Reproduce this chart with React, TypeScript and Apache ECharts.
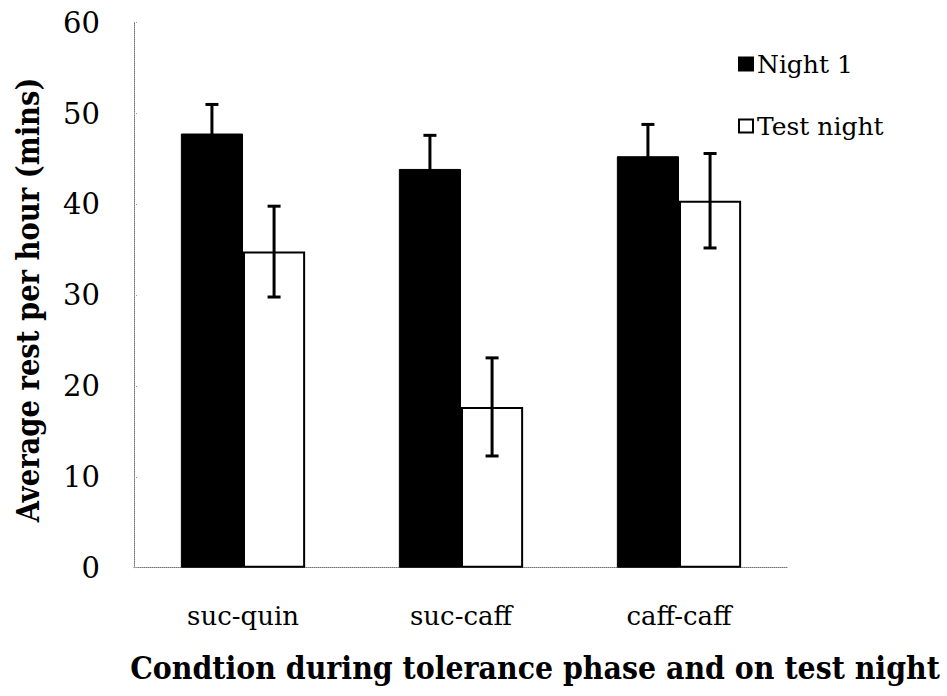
import React, { useEffect, useRef } from "react";
import * as echarts from "echarts";

// Rest per hour (minutes) for each condition
const categories = ["suc-quin", "suc-caff", "caff-caff"];
const night1 = [47.8, 43.9, 45.3];
const night1Err = [3.2, 3.7, 3.5];
const testNight = [34.8, 17.7, 40.4];
const testNightErr = [5.0, 5.4, 5.2];
const yTicks = [0, 10, 20, 30, 40, 50, 60];

const yTitle = "Average rest per hour (mins)";
const xTitle = "Condtion during tolerance phase and on test night";

const FONT = "DejaVu Serif";
const BAR_FRACTION = 0.285;

// Horizontal squeeze factor so a title spans the given length
function fitScale(text: string, font: string, target: number) {
  const ctx = document.createElement("canvas").getContext("2d");
  if (!ctx) return 1;
  ctx.font = font;
  const w = ctx.measureText(text).width;
  return w > 0 ? target / w : 1;
}

function errorSeries(values: number[], errs: number[], side: number) {
  return {
    type: "custom",
    silent: true,
    z: 10,
    data: values.map((v, i) => [i, v, errs[i]]),
    encode: { x: 0, y: 1 },
    renderItem: (params: any, api: any) => {
      const idx = api.value(0);
      const v = api.value(1);
      const e = api.value(2);
      const band = api.size([1, 0])[0];
      const offset = (side * band * BAR_FRACTION) / 2;
      const hi = api.coord([idx, v + e]);
      const lo = api.coord([idx, v - e]);
      const x = hi[0] + offset;
      const cap = 6.5;
      const style = { stroke: "#000", lineWidth: 3, fill: "none" };
      return {
        type: "group",
        children: [
          { type: "line", shape: { x1: x, y1: hi[1], x2: x, y2: lo[1] }, style },
          { type: "line", shape: { x1: x - cap, y1: hi[1], x2: x + cap, y2: hi[1] }, style },
          { type: "line", shape: { x1: x - cap, y1: lo[1], x2: x + cap, y2: lo[1] }, style },
        ],
      };
    },
  };
}

export default function App() {
  const ref = useRef<HTMLDivElement>(null);

  useEffect(() => {
    if (!ref.current) return;
    const chart = echarts.init(ref.current, null, { renderer: "svg" });
    const yTitleSize = 32;
    const xTitleSize = 32;
    const yScale = fitScale(yTitle, `bold ${yTitleSize}px ${FONT}`, 445);
    const xScale = fitScale(xTitle, `bold ${xTitleSize}px ${FONT}`, 810);
    chart.setOption({
      animation: false,
      backgroundColor: "#fff",
      grid: { left: 134, right: 159, top: 22.7, bottom: 128.3, containLabel: false },
      legend: {
        orient: "vertical",
        left: 733,
        top: 44,
        itemWidth: 14,
        itemHeight: 13,
        itemGap: 32,
        icon: "rect",
        data: ["Night 1", "Test night"],
        textStyle: { fontFamily: FONT, fontSize: 25, color: "#000", lineHeight: 30, padding: [0, 0, 0, -1] },
      },
      xAxis: {
        type: "category",
        data: categories,
        axisLine: { lineStyle: { color: "#777", type: "dotted", width: 1 } },
        axisTick: { show: false },
        axisLabel: { fontFamily: FONT, fontSize: 26, color: "#000", margin: 35 },
      },
      yAxis: {
        type: "value",
        min: 0,
        max: 60,
        interval: 10,
        axisLine: { show: true, lineStyle: { color: "#777", type: "dotted", width: 1 } },
        axisTick: { show: true, inside: true, length: 4, lineStyle: { color: "#999", type: "dotted" } },
        splitLine: { show: false },
        axisLabel: {
          fontFamily: FONT,
          fontSize: 29,
          color: "#000",
          margin: 34,
          formatter: (v: number) => (yTicks.includes(v) ? String(v) : ""),
        },
      },
      series: [
        {
          name: "Night 1",
          type: "bar",
          data: night1,
          barWidth: BAR_FRACTION * 100 + "%",
          barGap: "0%",
          itemStyle: { color: "#000", borderColor: "#000", borderWidth: 1 },
        },
        {
          name: "Test night",
          type: "bar",
          data: testNight,
          barWidth: BAR_FRACTION * 100 + "%",
          barGap: "0%",
          itemStyle: { color: "#fff", borderColor: "#000", borderWidth: 2 },
        },
        errorSeries(night1, night1Err, -1),
        errorSeries(testNight, testNightErr, 1),
      ],
      graphic: [
        {
          type: "text",
          x: 28,
          y: 300,
          rotation: Math.PI / 2,
          scaleX: yScale,
          style: {
            text: yTitle,
            fontFamily: FONT,
            fontWeight: "bold",
            fontSize: yTitleSize,
            fill: "#000",
            align: "center",
            verticalAlign: "middle",
          },
        },
        {
          type: "text",
          x: 535,
          y: 668,
          scaleX: xScale,
          style: {
            text: xTitle,
            fontFamily: FONT,
            fontWeight: "bold",
            fontSize: xTitleSize,
            fill: "#000",
            align: "center",
            verticalAlign: "middle",
          },
        },
      ],
    });
    return () => chart.dispose();
  }, []);

  return (
    <div
      ref={ref}
      style={{ position: "absolute", left: 0, top: 0, width: 947, height: 696 }}
    />
  );
}
